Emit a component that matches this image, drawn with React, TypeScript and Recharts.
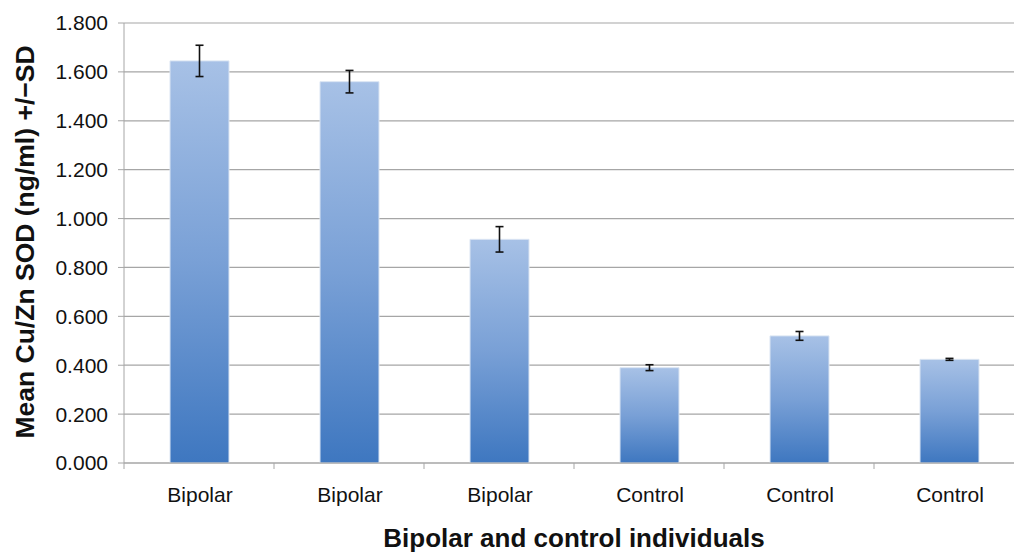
import { BarChart, Bar, XAxis, YAxis, CartesianGrid, ErrorBar } from 'recharts';

const groups = ['Bipolar', 'Bipolar', 'Bipolar', 'Control', 'Control', 'Control'];
const means = [1.645, 1.56, 0.915, 0.39, 0.52, 0.424];
const sds = [0.064, 0.046, 0.052, 0.012, 0.018, 0.004];
const yTicks = [0, 0.2, 0.4, 0.6, 0.8, 1.0, 1.2, 1.4, 1.6, 1.8];

const data = groups.map((g, i) => ({ id: i, group: g, mean: means[i], sd: sds[i] }));

const FONT = '"Liberation Sans", Arial, sans-serif';
const GRID = '#a6a6a6';

function CategoryTick(props: any) {
  const { x, y, payload, index, width, visibleTicksCount } = props;
  const half = width && visibleTicksCount ? width / visibleTicksCount / 2 : 75;
  return (
    <g>
      <line x1={x - half} y1={y} x2={x - half} y2={y + 6} stroke={GRID} />
      {index === data.length - 1 && (
        <line x1={x + half} y1={y} x2={x + half} y2={y + 6} stroke={GRID} />
      )}
      <text x={x + 1} y={y + 39} textAnchor="middle" fontSize={21} fontFamily={FONT} fill="#111">
        {groups[payload.value]}
      </text>
    </g>
  );
}

export default function App() {
  return (
    <div style={{ position: 'absolute', left: 0, top: 0, width: 1014, height: 552, overflow: 'hidden', background: '#fff', fontFamily: FONT }}>
      <BarChart width={1030} height={552} data={data} margin={{ top: 23, right: 6, left: 0, bottom: 0 }}>
        <defs>
          <linearGradient id="barFill" x1="0" y1="0" x2="0" y2="1">
            <stop offset="0%" stopColor="#a7c1e6" />
            <stop offset="50%" stopColor="#79a0d6" />
            <stop offset="100%" stopColor="#3e77c0" />
          </linearGradient>
        </defs>
        <CartesianGrid vertical={false} stroke={GRID} strokeWidth={1.2} />
        <XAxis
          dataKey="id"
          height={89}
          stroke={GRID}
          tickLine={false}
          tickSize={0}
          tickMargin={0}
          interval={0}
          tick={<CategoryTick />}
        />
        <YAxis
          width={124}
          domain={[0, 1.8]}
          ticks={yTicks}
          stroke={GRID}
          tickSize={6}
          tickMargin={10}
          tickFormatter={(v: number) => v.toFixed(3)}
          tick={{ fontSize: 21, fontFamily: FONT, fill: '#111' }}
          allowDataOverflow
        />
        <Bar dataKey="mean" barSize={59} fill="url(#barFill)" stroke="#dbe5f3" strokeWidth={1} isAnimationActive={false}>
          <ErrorBar dataKey="sd" width={4} stroke="#111" strokeWidth={1.6} isAnimationActive={false} />
        </Bar>
      </BarChart>
      <div style={{ position: 'absolute', left: 124, width: 900, top: 523, textAlign: 'center', fontWeight: 'bold', fontSize: 26, color: '#111', whiteSpace: 'nowrap' }}>
        Bipolar and control individuals
      </div>
      <div style={{ position: 'absolute', left: 25, top: 242, width: 0, height: 0 }}>
        <div style={{ position: 'absolute', left: 0, top: 0, transform: 'translate(-50%, -50%) rotate(-90deg)', fontWeight: 'bold', fontSize: 26.5, color: '#111', whiteSpace: 'nowrap' }}>
          Mean Cu/Zn SOD (ng/ml) +/−SD
        </div>
      </div>
    </div>
  );
}
